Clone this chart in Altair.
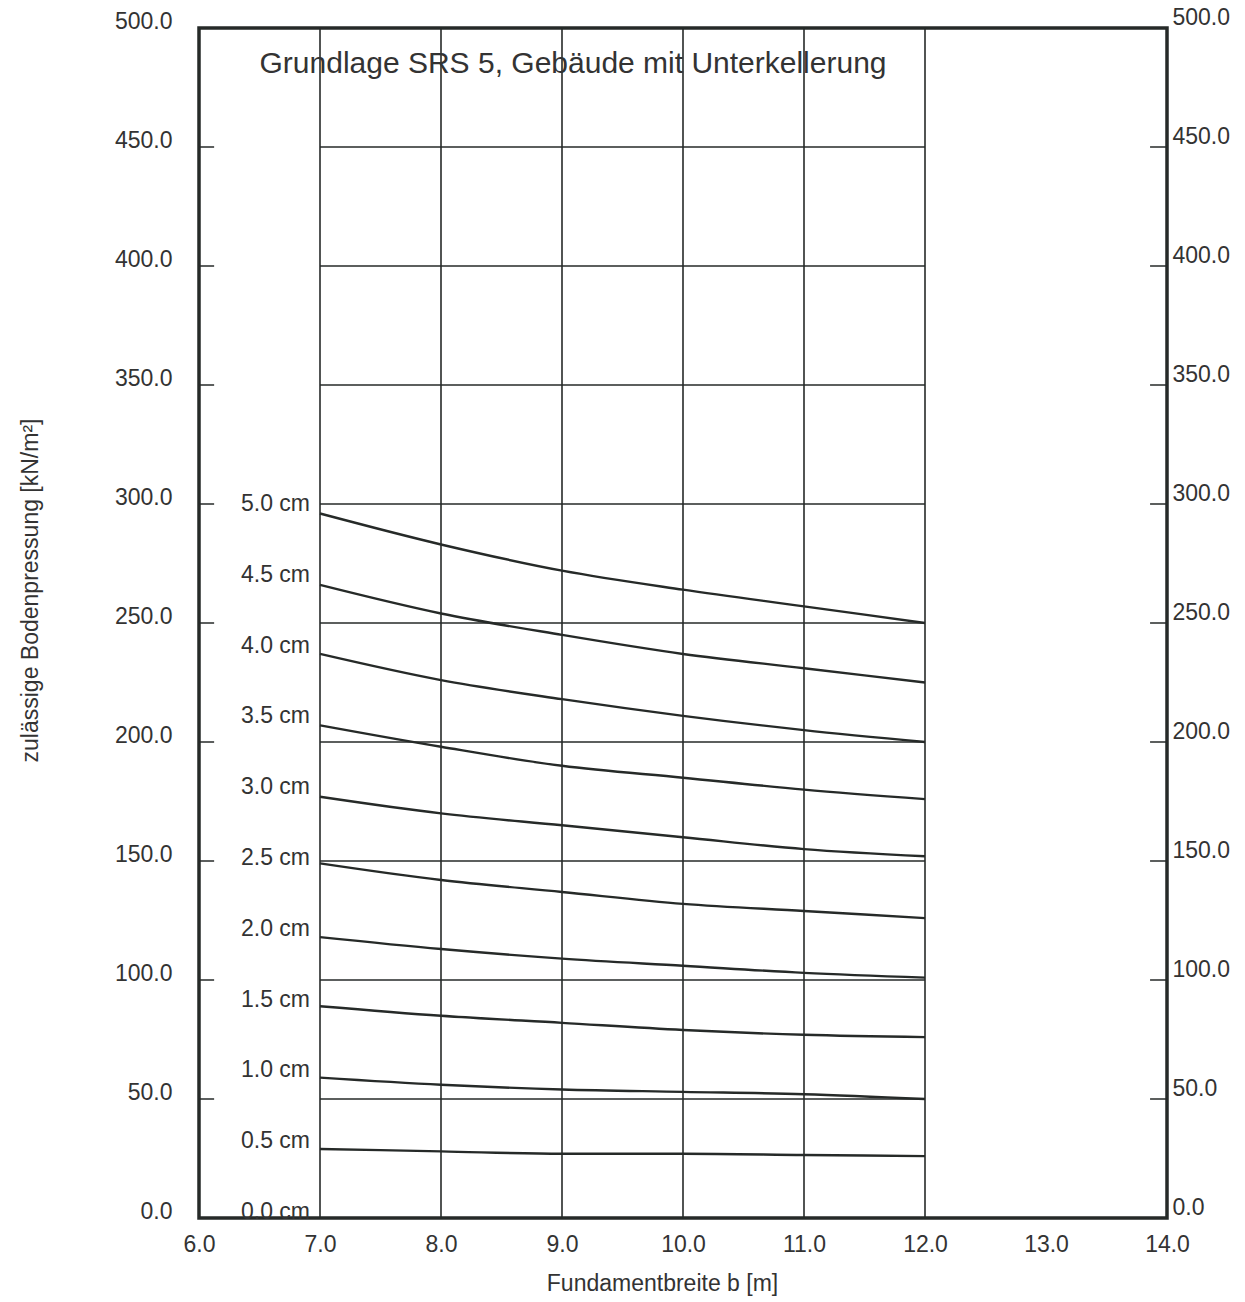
import altair as alt
import pandas as pd

# ---- data ----
widths = [7.0, 8.0, 9.0, 10.0, 11.0, 12.0]
depths = [5.0, 4.5, 4.0, 3.5, 3.0, 2.5, 2.0, 1.5, 1.0, 0.5]
s50 = [296, 283, 272, 264, 257, 250]
s45 = [266, 254, 245, 237, 231, 225]
s40 = [237, 226, 218, 211, 205, 200]
s35 = [207, 198, 190, 185, 180, 176]
s30 = [177, 170, 165, 160, 155, 152]
s25 = [149, 142, 137, 132, 129, 126]
s20 = [118, 113, 109, 106, 103, 101]
s15 = [89, 85, 82, 79, 77, 76]
s10 = [59, 56, 54, 53, 52, 50]
s05 = [29, 28, 27, 27, 26.5, 26]
series = [s50, s45, s40, s35, s30, s25, s20, s15, s10, s05]
label_depths = [5.0, 4.5, 4.0, 3.5, 3.0, 2.5, 2.0, 1.5, 1.0, 0.5, 0.0]
y_ticks = [0, 50, 100, 150, 200, 250, 300, 350, 400, 450, 500]
x_ticks = [6, 7, 8, 9, 10, 11, 12, 13, 14]
grid_y = [50, 100, 150, 200, 250, 300, 350, 400, 450]
grid_x = [7, 8, 9, 10, 11, 12]
title_text = "Grundlage SRS 5, Gebäude mit Unterkellerung"

FONT = "Liberation Sans"
INK = "#262a28"
TXT = "#333333"
FS = 23

rows = []
for d, vals in zip(depths, series):
    for x, v in zip(widths, vals):
        rows.append({"depth": d, "b": x, "p": v})
curves_df = pd.DataFrame(rows)

lab_df = pd.DataFrame({"label": [f"{d:.1f} cm" for d in label_depths],
                       "x": 7.0,
                       "y": [2.5 + 59.5 * d for d in label_depths]})
hgrid_df = pd.DataFrame({"y": grid_y, "x1": 7.0, "x2": 12.0})
vgrid_df = pd.DataFrame({"x": grid_x, "y1": 0, "y2": 500})
lt_df = pd.DataFrame({"y": grid_y, "x1": 6.0, "x2": 6.125})
rt_df = pd.DataFrame({"y": grid_y, "x1": 13.86, "x2": 14.0})
title_df = pd.DataFrame({"t": [title_text], "x": [6.5], "y": [485]})

xs = alt.Scale(domain=[6, 14], nice=False, zero=False)
ys = alt.Scale(domain=[0, 500], nice=False, zero=False)

x_axis = alt.Axis(values=x_ticks, format=".1f", grid=False, ticks=False, tickSize=0,
                  domain=False, labelFont=FONT, labelFontSize=FS, labelColor=TXT,
                  labelPadding=15, labelFlush=False, labelOverlap=False,
                  title="Fundamentbreite b [m]", titleFont=FONT,
                  titleFontSize=FS, titleFontWeight="normal", titleColor=TXT,
                  titleX=463, titleY=65, titleBaseline="middle")
y_axis_left = alt.Axis(values=y_ticks, format=".1f", grid=False, ticks=False, tickSize=0,
                       domain=False, labelFont=FONT, labelFontSize=FS, labelColor=TXT,
                       labelPadding=27, labelOffset=-7, orient="left",
                       labelFlush=False, labelOverlap=False,
                       title="zulässige Bodenpressung [kN/m²]", titleFont=FONT,
                       titleFontSize=FS, titleFontWeight="normal", titleColor=TXT,
                       titleX=-169, titleY=562, titleAngle=-90, titleBaseline="middle",
                       titleAlign="center")
y_axis_right = alt.Axis(values=y_ticks, format=".1f", grid=False, ticks=False, tickSize=0,
                        domain=False, labelFont=FONT, labelFontSize=FS, labelColor=TXT,
                        labelPadding=5, labelOffset=-11, orient="right",
                        labelFlush=False, labelOverlap=False, title=None)

curves = alt.Chart(curves_df).mark_line(color=INK, strokeWidth=2.4, interpolate="monotone").encode(
    x=alt.X("b:Q", scale=xs, axis=x_axis),
    y=alt.Y("p:Q", scale=ys, axis=y_axis_left),
    detail="depth:N",
)
hgrid = alt.Chart(hgrid_df).mark_rule(color=INK, strokeWidth=1.3).encode(
    x=alt.X("x1:Q", scale=xs), x2="x2:Q", y=alt.Y("y:Q", scale=ys))
vgrid = alt.Chart(vgrid_df).mark_rule(color=INK, strokeWidth=1.6).encode(
    x=alt.X("x:Q", scale=xs), y=alt.Y("y1:Q", scale=ys), y2="y2:Q")
lticks = alt.Chart(lt_df).mark_rule(color=INK, strokeWidth=1.5).encode(
    x=alt.X("x1:Q", scale=xs), x2="x2:Q", y=alt.Y("y:Q", scale=ys))
labels = alt.Chart(lab_df).mark_text(align="right", baseline="middle", dx=-10,
                                     font=FONT, fontSize=FS, color=TXT).encode(
    x=alt.X("x:Q", scale=xs), y=alt.Y("y:Q", scale=ys), text="label:N")
title = alt.Chart(title_df).mark_text(align="left", baseline="middle",
                                      font=FONT, fontSize=30, color=TXT).encode(
    x=alt.X("x:Q", scale=xs), y=alt.Y("y:Q", scale=ys), text="t:N")

main = alt.layer(vgrid, hgrid, lticks, curves, labels, title)

rticks = alt.Chart(rt_df).mark_rule(color=INK, strokeWidth=1.5).encode(
    x=alt.X("x1:Q", scale=xs), x2="x2:Q",
    y=alt.Y("y:Q", scale=ys, axis=y_axis_right))

chart = alt.layer(main, rticks).resolve_scale(y="independent").properties(
    width=968, height=1190,
    padding={"left": 199, "top": 28, "right": 78, "bottom": 84},
    autosize=alt.AutoSizeParams(type="none"),
    background="white",
).configure_view(stroke=INK, strokeWidth=3.5)

chart.save("out.html", embed_options={"renderer": "svg", "actions": False})
